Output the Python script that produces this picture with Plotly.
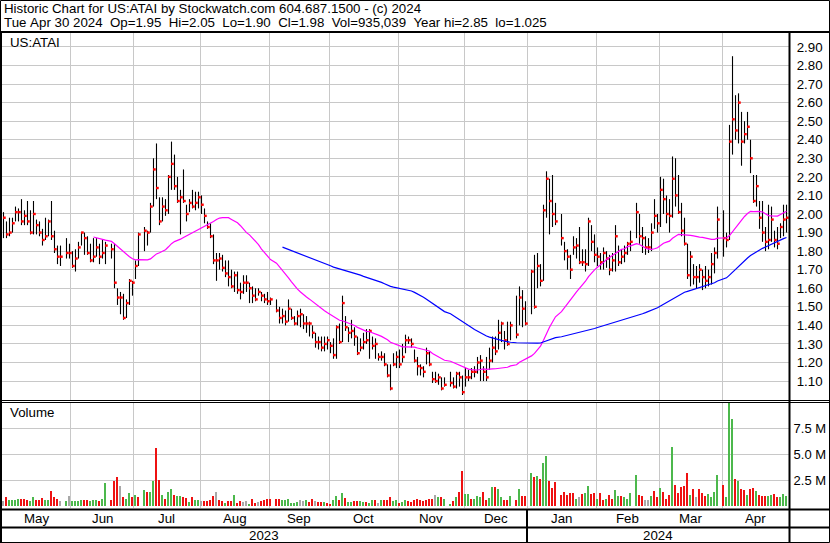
import datetime as dt
import pandas as pd
import plotly.graph_objects as go

W, H = 830, 543

# ---------------- data ----------------
start_date = dt.date(2023, 5, 1)
end_date = dt.date(2024, 4, 30)

close = [1.98,1.89,1.90,1.95,2.01,2.01,1.96,1.99,1.96,1.90,
 2.00,1.94,1.90,1.86,1.88,1.96,1.88,1.81,1.77,1.77,
 None,1.79,1.79,1.72,1.76,1.82,1.90,1.87,1.79,1.75,
 1.77,1.82,1.77,1.79,1.83,None,1.81,1.63,1.55,1.55,
 1.44,1.52,1.64,1.63,1.72,1.89,None,1.91,1.90,2.04,
 2.24,2.14,1.96,2.04,2.02,2.20,2.27,2.15,2.07,2.09,
 2.07,2.00,2.06,2.04,2.06,2.09,2.05,1.99,1.93,1.88,
 1.75,1.75,1.76,1.71,1.68,1.66,1.61,1.67,1.59,1.58,
 1.63,1.63,1.60,1.56,1.54,1.58,1.56,1.54,1.53,1.54,
 None,1.48,1.44,1.45,1.42,1.49,1.44,1.41,1.45,1.46,
 1.41,1.41,1.41,1.36,1.31,1.31,1.28,1.30,1.32,1.29,
 1.24,1.39,1.31,1.52,1.39,1.36,1.37,1.34,1.25,1.28,
 1.31,1.32,1.37,1.29,1.30,1.23,1.23,1.19,1.13,1.06,
 1.19,1.23,1.19,1.23,1.32,1.32,1.30,1.21,1.18,1.17,
 1.15,1.25,1.19,1.11,1.10,1.12,1.06,1.08,None,1.09,
 1.07,1.14,1.12,1.04,1.12,1.12,1.15,1.15,1.20,1.21,
 1.15,1.12,1.21,1.28,1.26,1.36,1.41,1.32,1.30,1.40,
 None,1.35,1.55,1.49,1.41,None,1.69,1.50,1.72,1.64,
 2.02,2.19,2.07,2.00,1.96,None,1.87,1.80,1.77,1.70,
 1.82,1.83,1.74,1.74,1.73,1.96,1.85,1.78,1.77,1.74,
 1.79,1.76,1.70,1.75,1.88,1.74,1.77,1.79,1.84,1.85,
 None,2.01,1.88,1.87,1.82,1.82,1.90,1.99,1.95,2.13,
 2.08,2.00,1.99,2.19,2.10,2.01,1.91,1.84,1.67,1.77,
 1.66,1.66,1.70,1.66,1.64,1.66,1.73,1.79,1.97,None,
 1.87,1.86,2.39,2.51,2.45,2.60,2.39,2.43,2.47,2.30,
 2.07,2.15,1.98,1.90,1.85,1.86,1.97,1.86,1.84,1.93,
 1.97,1.98]

high = [2.01,1.96,1.98,1.98,2.04,2.03,2.08,2.02,2.07,2.02,
 2.07,1.97,1.96,1.92,1.98,1.97,2.07,1.91,1.83,1.83,
 None,1.87,1.84,1.80,1.81,1.85,1.90,1.90,1.88,1.84,
 1.87,1.87,1.84,1.86,1.85,None,1.84,1.84,1.60,1.58,
 1.57,1.54,1.65,1.64,1.75,1.90,None,1.93,1.91,2.06,
 2.30,2.38,2.09,2.09,2.08,2.21,2.39,2.32,2.20,2.13,
 2.24,2.05,2.08,2.13,2.12,2.12,2.10,2.03,1.96,1.95,
 1.89,1.79,1.79,1.78,1.75,1.75,1.70,1.69,1.69,1.63,
 1.67,1.67,1.63,1.61,1.60,1.60,1.58,1.57,1.58,1.55,
 None,1.54,1.50,1.49,1.48,1.54,1.49,1.45,1.48,1.49,
 1.46,1.45,1.42,1.40,1.36,1.34,1.34,1.34,1.34,1.31,
 1.33,1.40,1.41,1.56,1.45,1.39,1.43,1.39,1.34,1.33,
 1.36,1.38,1.38,1.34,1.33,1.25,1.26,1.25,1.19,1.19,
 1.25,1.26,1.27,1.30,1.35,1.34,1.33,1.27,1.23,1.19,
 1.18,1.28,1.26,1.15,1.15,1.14,1.12,1.12,None,1.15,
 1.12,1.15,1.15,1.13,1.17,1.16,1.17,1.18,1.23,1.24,
 1.18,1.23,1.28,1.34,1.34,1.43,1.42,1.37,1.42,1.42,
 None,1.56,1.61,1.59,1.53,None,1.70,1.78,1.79,1.73,
 2.05,2.23,2.19,2.21,2.06,None,2.00,1.85,1.81,1.78,
 1.88,1.87,1.93,1.81,1.81,1.98,1.94,1.89,1.82,1.79,
 1.82,1.80,1.78,1.79,1.94,1.83,1.81,1.83,1.85,1.91,
 None,2.06,2.00,1.93,1.88,1.87,1.95,2.08,2.00,2.20,
 2.19,2.10,2.08,2.31,2.30,2.21,2.06,1.98,1.84,1.80,
 1.73,1.72,1.73,1.70,1.72,1.70,1.79,1.82,2.04,None,
 2.02,1.90,2.48,2.85,2.64,2.65,2.55,2.50,2.55,2.40,
 2.21,2.21,2.07,2.07,1.93,2.05,2.04,1.91,1.93,1.95,
 2.05,2.05]

low = [1.87,1.87,1.88,1.90,1.96,1.96,1.94,1.94,1.94,1.89,
 1.89,1.89,1.88,1.83,1.86,1.88,1.86,1.79,1.73,1.72,
 None,1.76,1.76,1.71,1.69,1.76,1.83,1.78,1.78,1.74,
 1.74,1.77,1.73,1.76,1.73,None,1.76,1.60,1.51,1.46,
 1.43,1.44,1.51,1.56,1.65,1.72,None,1.80,1.83,1.90,
 2.04,2.08,1.94,1.96,1.99,2.00,2.13,2.13,2.06,1.89,
 2.06,1.96,2.01,2.03,2.02,2.03,2.00,1.95,1.92,1.87,
 1.73,1.64,1.70,1.69,1.66,1.61,1.60,1.58,1.57,1.54,
 1.57,1.58,1.52,1.52,1.53,1.56,1.53,1.52,1.51,1.51,
 None,1.47,1.41,1.41,1.40,1.42,1.43,1.40,1.40,1.39,
 1.38,1.36,1.34,1.33,1.28,1.27,1.26,1.26,1.27,1.25,
 1.22,1.22,1.30,1.31,1.37,1.31,1.33,1.29,1.24,1.26,
 1.27,1.30,1.22,1.27,1.22,1.21,1.21,1.18,1.12,1.05,
 1.18,1.17,1.17,1.20,1.25,1.30,1.28,1.20,1.13,1.13,
 1.12,1.19,1.18,1.09,1.09,1.08,1.05,1.07,None,1.07,
 1.06,1.06,1.07,1.025,1.07,1.10,1.11,1.12,1.14,1.10,
 1.10,1.10,1.16,1.20,1.24,1.27,1.31,1.27,1.29,1.32,
 None,1.33,1.40,1.39,1.40,None,1.46,1.49,1.60,1.61,
 1.64,1.98,1.89,1.93,1.94,None,1.83,1.75,1.70,1.65,
 1.78,1.76,1.73,1.72,1.69,1.72,1.80,1.74,1.72,1.70,
 1.70,1.71,1.67,1.69,1.69,1.72,1.73,1.74,1.78,1.80,
 None,1.87,1.84,1.79,1.78,1.79,1.80,1.92,1.90,1.93,
 2.00,1.95,1.90,1.98,2.04,2.00,1.88,1.83,1.65,1.61,
 1.62,1.60,1.63,1.59,1.60,1.61,1.62,1.68,1.76,None,
 1.77,1.82,1.86,2.32,2.40,2.38,2.26,2.38,2.40,2.22,
 2.06,2.04,1.92,1.85,1.80,1.81,1.85,1.82,1.81,1.87,
 1.88,1.90]

# volume in millions of shares
volume_m = [0.48,0.90,0.58,0.61,0.61,0.70,0.70,0.67,0.58,0.45,
 0.90,0.54,0.54,0.77,0.61,0.54,1.47,0.86,0.70,0.51,
 None,0.51,0.99,0.51,0.45,0.48,0.54,0.61,0.61,0.45,
 0.61,0.61,0.51,0.70,2.24,None,0.54,2.43,2.82,1.95,
 0.90,0.70,1.28,0.86,1.09,0.86,None,1.57,1.31,1.31,
 2.43,5.60,2.50,1.09,0.70,1.34,1.66,1.09,0.96,0.96,
 0.83,0.74,0.38,0.90,0.58,0.54,0.51,0.48,0.51,0.58,
 0.99,1.38,0.58,0.51,0.32,0.48,0.51,1.09,0.32,0.48,
 0.38,0.48,0.22,0.70,0.29,0.42,0.48,0.58,0.70,0.70,
 None,0.67,0.70,0.61,0.54,0.70,0.32,0.32,0.38,0.61,
 0.48,0.54,0.42,0.70,0.51,0.42,0.42,0.35,0.32,0.22,
 0.58,0.99,0.54,1.28,0.77,0.42,0.42,0.51,0.48,0.51,
 0.42,0.38,0.32,0.61,0.54,0.32,0.54,0.61,0.54,0.86,
 0.48,0.61,0.32,0.38,0.58,0.48,0.38,0.58,0.70,0.54,
 0.51,0.54,0.64,0.70,1.09,0.90,0.83,0.70,None,0.22,
 0.51,0.90,1.38,3.39,1.12,1.18,0.70,0.70,0.96,0.83,
 1.38,0.54,0.80,1.86,1.86,1.66,0.90,0.61,0.61,0.99,
 None,0.61,1.66,0.99,0.99,None,3.20,2.82,2.91,2.62,
 4.16,4.83,2.43,1.76,2.34,None,1.09,1.38,1.09,1.28,
 1.28,0.70,0.90,1.18,1.25,1.95,1.18,1.28,0.70,1.28,
 0.58,0.70,1.09,0.70,1.57,0.99,0.99,0.90,0.70,1.22,
 None,2.94,1.09,0.99,0.61,0.61,0.99,1.47,0.90,1.76,
 1.38,0.70,1.09,5.70,2.05,1.28,1.86,1.95,3.14,1.02,
 1.66,0.90,1.60,1.28,0.99,1.18,0.90,1.38,3.01,None,
 2.05,0.90,10.0,8.40,2.62,2.43,1.66,1.57,1.09,1.66,
 1.76,1.47,1.09,0.99,0.99,0.99,1.09,1.18,0.90,0.86,
 1.18,0.94]

# day direction: u = up, d = down, f = flat, - = no trading
day_direction = "".join([
 "fduuuudddu", "uddduudddf", "-ufuuuuddu", "uuduu-dddf", "duudud-udu",
 "udduduuduu", "dduduufddd", "dfdduddudd", "ffuddfdddd", "-dduuuuuuf",
 "fuddfddudd", "uududuuddu", "uduudfuddd", "uuduuddddd", "ddddfudu-u",
 "dudduuduuu", "dduuduuddu", "-dudd-udud", "uuddd-dddd", "dufduuddud",
 "dudduuduuu", "-uddffuddu", "dddudddddu", "dfddduuuu-", "duuududdud",
 "duddduuddu", "uu"])

price_ticks = [1.10, 1.20, 1.30, 1.40, 1.50, 1.60, 1.70, 1.80, 1.90, 2.00,
               2.10, 2.20, 2.30, 2.40, 2.50, 2.60, 2.70, 2.80, 2.90]
volume_ticks = [2.5, 5.0, 7.5]
volume_tick_labels = ["2.5 M", "5.0 M", "7.5 M"]
month_names = ["May", "Jun", "Jul", "Aug", "Sep", "Oct", "Nov", "Dec",
               "Jan", "Feb", "Mar", "Apr"]
years = ["2023", "2024"]

header1 = "Historic Chart for US:ATAI by Stockwatch.com 604.687.1500 - (c) 2024"
header2 = ("Tue Apr 30 2024  Op=1.95  Hi=2.05  Lo=1.90  Cl=1.98  "
           "Vol=935,039  Year hi=2.85  lo=1.025")

# ---------------- derived positions ----------------
days = []
d = start_date
while d <= end_date:
    if d.weekday() < 5:
        days.append(d)
    d += dt.timedelta(days=1)
n = len(days)
idx = list(range(n))

# month boundaries (in weekday-index units)
bounds = []
for i, day in enumerate(days):
    if i > 0 and day.month != days[i - 1].month:
        first = dt.date(day.year, day.month, 1)
        off = 1.5 if first.weekday() >= 5 else 0.5
        bounds.append(i - off)
x_lo, x_hi = -0.83, n - 1 + 0.83
edges = [x_lo] + bounds + [x_hi]
month_centers = [(edges[k] + edges[k + 1]) / 2 for k in range(len(edges) - 1)]
year_split = bounds[7]  # Jan 1 2024
year_centers = [(x_lo + year_split) / 2, (year_split + x_hi) / 2]

# high-low bars and close ticks
hl_x, hl_y, cl_x, cl_y = [], [], [], []
for i in idx:
    if close[i] is None:
        continue
    hl_x += [i, i, None]
    hl_y += [low[i], high[i], None]
    cl_x += [i - 0.15, i + 0.75, None]
    cl_y += [close[i], close[i], None]

s = pd.Series(close, index=idx, dtype="float").dropna()
ma30 = s.rolling(30).mean().dropna()
ma90 = s.rolling(90).mean().dropna()

dir_colors = {"u": "#4cb84c", "d": "#ee1111", "f": "#a8a8a8", "-": "#ffffff"}
vx, vy, vc = [], [], []
for i in idx:
    if volume_m[i] is None:
        continue
    vx.append(i)
    vy.append(volume_m[i])
    ch = day_direction[i] if i < len(day_direction) else "f"
    vc.append(dir_colors.get(ch, "#a8a8a8"))

# ---------------- figure ----------------
def px(x):
    return x / W


def py(y):
    return 1 - y / H


FONT = "Liberation Sans, Arial, sans-serif"
GRID = "#c8c8c8"

fig = go.Figure()
fig.add_trace(go.Scatter(x=hl_x, y=hl_y, mode="lines",
                         line=dict(color="black", width=1.1),
                         xaxis="x", yaxis="y", hoverinfo="skip"))
fig.add_trace(go.Scatter(x=cl_x, y=cl_y, mode="lines",
                         line=dict(color="#ff0000", width=2.4),
                         xaxis="x", yaxis="y", hoverinfo="skip"))
fig.add_trace(go.Scatter(x=list(ma30.index), y=list(ma30.values), mode="lines",
                         line=dict(color="#ff00ff", width=1.2),
                         xaxis="x", yaxis="y"))
fig.add_trace(go.Scatter(x=list(ma90.index), y=list(ma90.values), mode="lines",
                         line=dict(color="#0000ff", width=1.2),
                         xaxis="x", yaxis="y"))
fig.add_trace(go.Bar(x=vx, y=vy, marker=dict(color=vc, line=dict(width=0)),
                     width=0.62, xaxis="x2", yaxis="y2"))

x_dom = [px(1), px(789)]
xaxis_common = dict(range=[x_lo, x_hi], tickvals=bounds, showticklabels=False,
                    showgrid=True, gridcolor=GRID, gridwidth=1, zeroline=False,
                    showline=False, ticks="", fixedrange=True)

fig.update_layout(
    width=W, height=H, margin=dict(l=0, r=0, t=0, b=0),
    paper_bgcolor="white", plot_bgcolor="white", showlegend=False,
    bargap=0,
    xaxis=dict(domain=x_dom, anchor="y", **xaxis_common),
    xaxis2=dict(domain=x_dom, anchor="y2", **xaxis_common),
    yaxis=dict(domain=[py(400), py(33)], range=[0.998, 2.975], side="right",
               tickvals=price_ticks, ticktext=["%.2f" % v for v in price_ticks],
               showgrid=True, gridcolor=GRID, zeroline=False, showline=False,
               ticks="outside", ticklen=4, tickcolor="rgba(0,0,0,0)",
               tickfont=dict(family=FONT, size=13.3, color="black")),
    yaxis2=dict(domain=[py(508), py(402)], range=[-0.19, 10.0], side="right",
                tickvals=volume_ticks, ticktext=volume_tick_labels,
                showgrid=True, gridcolor=GRID, zeroline=False, showline=False,
                ticks="outside", ticklen=1, tickcolor="rgba(0,0,0,0)",
                tickfont=dict(family=FONT, size=13, color="black")),
)

shapes = []


def hline(y, x0=0, x1=W, w=1):
    shapes.append(dict(type="line", xref="paper", yref="paper",
                       x0=px(x0), x1=px(x1), y0=py(y), y1=py(y),
                       line=dict(color="black", width=w)))


def vline(x, y0, y1, w=1):
    shapes.append(dict(type="line", xref="paper", yref="paper",
                       x0=px(x), x1=px(x), y0=py(y0), y1=py(y1),
                       line=dict(color="black", width=w)))


shapes.append(dict(type="rect", xref="paper", yref="paper",
                   x0=px(0.5), x1=px(829.5), y0=py(542.5), y1=py(0.5),
                   line=dict(color="black", width=1)))
hline(32, w=2)
hline(400.5)
hline(402.5)
hline(509.5, w=2)
hline(527.5, w=2)
vline(789.5, 32, 543, w=2)
vline(1, 32, 543, w=2)
shapes.append(dict(type="line", xref="x", yref="paper", x0=year_split, x1=year_split,
                   y0=py(543), y1=py(509.5), line=dict(color="black", width=2)))

annotations = []


def text(x, y, s, size=13.3, xref="paper", anchor="left"):
    annotations.append(dict(x=x, y=y, xref=xref, yref="paper", text=s,
                            showarrow=False, xanchor=anchor, yanchor="middle",
                            font=dict(family=FONT, size=size, color="black")))


text(px(2), py(8.5), header1.replace(" ", "\u00a0"))
text(px(2), py(22), header2.replace(" ", "\u00a0"))
text(px(8), py(42), "US:ATAI")
text(px(8), py(413), "Volume")
for name, c in zip(month_names, month_centers):
    text(c, py(518.5), name, xref="x", anchor="center")
for name, c in zip(years, year_centers):
    text(c, py(535.5), name, xref="x", anchor="center")

fig.update_layout(shapes=shapes, annotations=annotations)
fig.write_html(
    "out.html",
    config={"displayModeBar": False},
    post_script="document.body.style.margin='0px';document.body.style.overflow='hidden';",
)
